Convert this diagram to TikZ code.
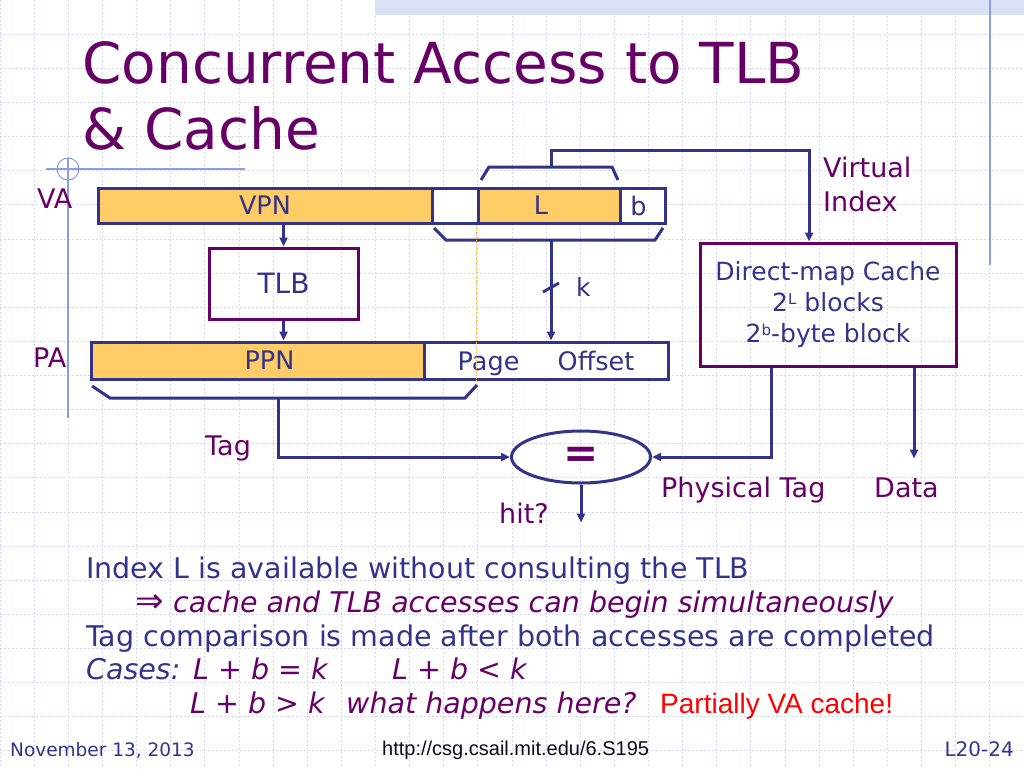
\documentclass[tikz,border=0pt]{standalone}
\usepackage{fontspec}
\setmainfont{DejaVu Sans}
\newfontfamily\arialfont{Liberation Sans}
\usetikzlibrary{arrows.meta,shapes.geometric}
\definecolor{navy}{RGB}{51,51,140}
\definecolor{plum}{RGB}{102,0,102}
\definecolor{gold}{RGB}{255,204,102}
\definecolor{gridc}{RGB}{210,216,243}
\definecolor{rulec}{RGB}{140,158,226}
\definecolor{bandc}{RGB}{218,225,246}
\newcommand{\supsm}[1]{\raisebox{7pt}{\fontsize{15}{15}\selectfont #1}}
\tikzset{
  seg/.style={draw=navy,line width=3pt,minimum height=35pt,inner sep=0pt,text=navy,text depth=0pt,font=\fontsize{25.5}{25.5}\selectfont},
  box/.style={draw=plum,line width=3pt,inner sep=0pt,text=navy},
  lbl/.style={inner sep=0pt,anchor=base west,text=plum,font=\fontsize{27}{27}\selectfont},
  body/.style={inner sep=0pt,anchor=base west,font=\fontsize{28.5}{28.5}\selectfont},
  slant/.style={body,font=\fontsize{28.5}{28.5}\selectfont\itshape},
  foot/.style={inner sep=0pt,text=navy,font=\fontsize{18.5}{18.5}\selectfont},
  ln/.style={draw=navy,line width=3pt},
  arr/.style={ln,-{Triangle[length=9pt,width=8pt]}},
  gridline/.style={draw=gridc,line width=0.8pt,dash pattern=on 2pt off 2pt},
  rule/.style={draw=rulec,line width=1.5pt}
}
\begin{document}
\begin{tikzpicture}[x=1pt,y=-1pt]
    \useasboundingbox (0,0) rectangle (1024,768);
    \foreach \i in {0,...,30} \draw[gridline] (\i*34.13,0) -- (\i*34.13,768);
    \foreach \j in {1,...,22} \draw[gridline] (0,\j*34.13) -- (1024,\j*34.13);
    \fill[bandc] (375,0) rectangle (1024,15);
    \draw[rule] (990,0) -- (990,265);
    \draw[rule] (68,158) -- (68,418);
    \draw[rule] (46,169) -- (245,169);
    \draw[rule,line width=1pt] (68,169) circle[radius=11pt];

    \node[inner sep=0pt,anchor=base west,text=plum,font=\fontsize{56.5}{56.5}\selectfont] (ttl1) at (82,83) {Concurrent Access to TLB};
    \node[inner sep=0pt,anchor=base west,text=plum,font=\fontsize{56.5}{56.5}\selectfont] (ttl2) at (82,149) {\& Cache};

    \node[seg,fill=gold,minimum width=334pt] (vpn) at (265,205.5) {VPN};
    \node[seg,fill=white,minimum width=46pt] (vgap) at (455,205.5) {};
    \node[seg,fill=gold,minimum width=142pt] (lidx) at (549,205.5) {L\hspace*{16pt}};
    \node[seg,fill=white,minimum width=45pt] (boff) at (642.5,205.5) {b\hspace*{8pt}};
    \node[box,minimum width=149pt,minimum height=71pt,font=\fontsize{28}{28}\selectfont] (tlb) at (283.5,283.5) {TLB};
    \node[seg,fill=gold,minimum width=333pt,minimum height=37pt] (ppn) at (257.5,360.5) {\hspace*{24pt}PPN};
    \node[seg,fill=white,minimum width=244pt,minimum height=37pt] (poff) at (546,360.5) {Page\hspace{1.5em}Offset};
    \node[box,minimum width=256pt,minimum height=123pt,align=center,font=\fontsize{25}{31}\selectfont] (cache) at (828,304.5) {Direct-map Cache\\2\supsm{L} blocks\\2\supsm{b}-byte block};
    \node[ellipse,draw=navy,line width=3pt,minimum width=139pt,minimum height=52pt,inner sep=0pt,text=plum,font=\fontsize{42}{42}\selectfont\bfseries] (eq) at (581,457) {=};

    \node[lbl] (lva) at (37,208) {VA};
    \node[lbl] (lpa) at (33,367) {PA};
    \node[lbl] (lvir) at (823,177) {Virtual};
    \node[lbl] (lvidx) at (823,211) {Index};
    \node[lbl] (ltag) at (205,455) {Tag};
    \node[lbl] (lhit) at (499,523) {hit?};
    \node[lbl] (lptag) at (661,497) {Physical Tag};
    \node[lbl] (ldata) at (874,497) {Data};
    \node[lbl,text=navy,font=\fontsize{25}{25}\selectfont] (lk) at (576,296) {k};

    \draw[ln] (481,180) -- (489,167) -- (612,167) -- (618,180);
    \draw[ln] (434,228) -- (446,240) -- (655,240) -- (663,228);
    \draw[ln] (92,386) -- (110,398) -- (465,398) -- (477,385);
    \coordinate (vin) at (551,167);
    \coordinate (kin) at (551,240);
    \coordinate (tin) at (278,398);
    \draw[draw=gold!80!orange,line width=1.5pt,densely dotted] (lidx.south west) -- (lidx.south west |- poff.south);

    \draw[arr] (tlb.north |- vpn.south) -- (tlb.north);
    \draw[arr] (tlb.south) -- (tlb.south |- ppn.north);
    \draw[arr] (vin) -- ++(0,-17) -| ([xshift=-19pt]cache.north);
    \draw[arr] (kin) -- (kin |- poff.north);
    \draw[ln] (543,292) -- (559,283);
    \draw[arr] (tin) |- (eq.west);
    \draw[arr] ([xshift=-57pt]cache.south) |- (eq.east);
    \draw[arr] ([xshift=86pt]cache.south) -- ++(0,91);
    \draw[arr] (eq.south) -- ++(0,38);

    \node[body,text=plum,font=\fontsize{34}{34}\selectfont] (bimp) at (135,612) {⇒};
    \node[body,text=navy] (bl1) at (86,578.5) {Index L is available without consulting the TLB};
    \node[slant,text=plum] (bsim) at (173,612) {cache and TLB accesses can begin simultaneously};
    \node[body,text=navy] (bl3) at (86,646) {Tag comparison is made after both accesses are completed};
    \node[slant,text=navy] (bcas) at (86,679.5) {Cases:};
    \node[slant,text=plum] (bc1) at (193,679.5) {L + b = k};
    \node[slant,text=plum] (bc2) at (392,679.5) {L + b < k};
    \node[slant,text=plum] (bc3) at (190,713) {L + b > k};
    \node[slant,text=plum] (bask) at (346,713) {what happens here?};
    \node[body,text=red,font=\arialfont\fontsize{28}{28}\selectfont] (bva) at (660,713) {Partially VA cache!};

    \node[foot,anchor=base west] (fdate) at (10,756) {November 13, 2013};
    \node[foot,anchor=base west,text=black!80!navy,font=\arialfont\fontsize{20}{20}\selectfont] (furl) at (382,755) {http://csg.csail.mit.edu/6.S195};
    \node[foot,anchor=base east,font=\fontsize{20}{20}\selectfont] (fnum) at (1014,756) {L20-24};
\end{tikzpicture}
\end{document}
